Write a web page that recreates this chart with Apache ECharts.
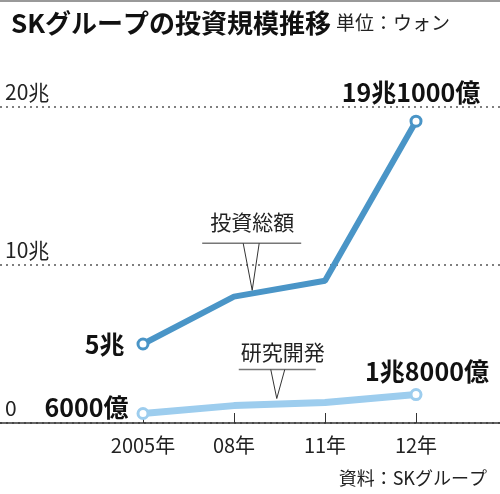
<!DOCTYPE html>
<html><head><meta charset="utf-8">
<script src="https://cdn.jsdelivr.net/npm/echarts@6/dist/echarts.min.js"></script>
<style>html,body{margin:0;padding:0;background:#fff}#c{width:500px;height:494px}</style>
</head><body><div id="c"></div>
<script>
const categories = ['2005年', '08年', '11年', '12年'];
const totalInvest = [5, 8, 9, 19.1];
const rnd = [0.6, 1.1, 1.3, 1.8];
const totalLabels = ['5兆', '', '', '19兆1000億'];
const rndLabels = ['6000億', '', '', '1兆8000億'];
const yTicks = [0, 10, 20];
const seriesNames = ['投資総額', '研究開発'];

const FONT = '"Noto Sans CJK JP", "Noto Sans", sans-serif';
const DARK = '#4a95c7';
const LIGHT = '#9dcdee';

function buildData(vals, labels, cfgs) {
  return vals.map((v, i) => {
    const item = { value: [i, v] };
    if (labels[i]) {
      item.symbol = 'circle';
      item.label = Object.assign({ show: true, formatter: labels[i] }, cfgs[i]);
    } else {
      item.symbol = 'none';
    }
    return item;
  });
}

const labelBase = { fontFamily: FONT, fontWeight: 'bold', fontSize: 25, color: '#111' };

const chart = echarts.init(document.getElementById('c'), null, { renderer: 'canvas' });
chart.setOption({
  animation: false,
  backgroundColor: '#fff',
  title: [
    {
      left: 6, top: 5,
      text: '{a|SKグループの投資規模推移} {b|単位：ウォン}',
      textStyle: {
        rich: {
          a: { fontFamily: FONT, fontWeight: 'bold', fontSize: 26, color: '#111' },
          b: { fontFamily: FONT, fontWeight: 'normal', fontSize: 19, color: '#222' }
        }
      }
    },
    {
      right: 8, bottom: 2,
      text: '資料：SKグループ',
      textStyle: { fontFamily: FONT, fontWeight: 'normal', fontSize: 18, color: '#222' }
    }
  ],
  grid: { left: 0, right: 0, top: 107, bottom: 71, containLabel: false },
  xAxis: {
    type: 'value',
    min: -143 / 91,
    max: 3 + 84 / 91,
    axisLine: { show: true, lineStyle: { color: '#333', width: 1.5 } },
    axisTick: { show: true, inside: true, length: 10, customValues: [0, 1, 2, 3], lineStyle: { color: '#333', width: 1 } },
    axisLabel: {
      show: true, customValues: [0, 1, 2, 3], margin: 12,
      formatter: v => categories[Math.round(v)] || '',
      fontFamily: FONT, fontSize: 20, color: '#222'
    },
    splitLine: { show: false }
  },
  yAxis: {
    type: 'value', min: 0, max: 20, interval: 10,
    axisLine: { show: false }, axisTick: { show: false },
    axisLabel: {
      inside: true, margin: 5, align: 'left', verticalAlign: 'bottom',
      padding: [0, 0, 4, 0],
      formatter: v => yTicks.includes(v) ? (v === 0 ? '0' : v + '兆') : '',
      fontFamily: FONT, fontSize: 21, color: '#222'
    },
    splitLine: { show: true, lineStyle: { color: '#555', type: [2, 4], width: 1.5 } }
  },
  series: [
    {
      name: seriesNames[0], type: 'line',
      data: buildData(totalInvest, totalLabels, [
        Object.assign({}, labelBase, { position: 'left', distance: 12 }),
        null, null,
        Object.assign({}, labelBase, { position: 'top', distance: 10, offset: [-5, 0] })
      ]),
      symbolSize: 10,
      lineStyle: { color: DARK, width: 6 },
      itemStyle: { color: '#fff', borderColor: DARK, borderWidth: 3 },
      z: 3
    },
    {
      name: seriesNames[1], type: 'line',
      data: buildData(rnd, rndLabels, [
        Object.assign({}, labelBase, { position: 'left', distance: 8, offset: [0, -6] }),
        null, null,
        Object.assign({}, labelBase, { position: 'top', distance: 4, offset: [11, 0] })
      ]),
      symbolSize: 10,
      lineStyle: { color: LIGHT, width: 7 },
      itemStyle: { color: '#fff', borderColor: LIGHT, borderWidth: 3 },
      z: 3
    }
  ]
});

function callout(text, tipData, hl, hr, hy, vl, vr, tx, ty) {
  const p = chart.convertToPixel({ gridIndex: 0 }, tipData);
  const x = p[0], y = p[1];
  return [
    { type: 'polyline', z: 10, shape: { points: [[x + hl, y + hy], [x + hr, y + hy]] }, style: { stroke: '#777', lineWidth: 1.5, fill: null } },
    { type: 'polyline', z: 10, shape: { points: [[x + vl, y + hy], [x, y], [x + vr, y + hy]] }, style: { stroke: '#333', lineWidth: 1, fill: null } },
    { type: 'text', z: 10, x: x + tx, y: y + ty, style: { text: text, font: '21px ' + FONT, fill: '#222', align: 'center', verticalAlign: 'middle' } }
  ];
}

chart.setOption({
  graphic: [
    { type: 'line', shape: { x1: 0, y1: 1, x2: 500, y2: 1 }, style: { stroke: '#999', lineWidth: 2 } }
  ].concat(
    callout(seriesNames[0], [1.2, 8.4], -50, 49, -47, -9, 7, 0, -68),
    callout(seriesNames[1], [1.47, 1.55], -38, 39, -29, -6, 8, 6, -46)
  )
});
</script></body></html>
